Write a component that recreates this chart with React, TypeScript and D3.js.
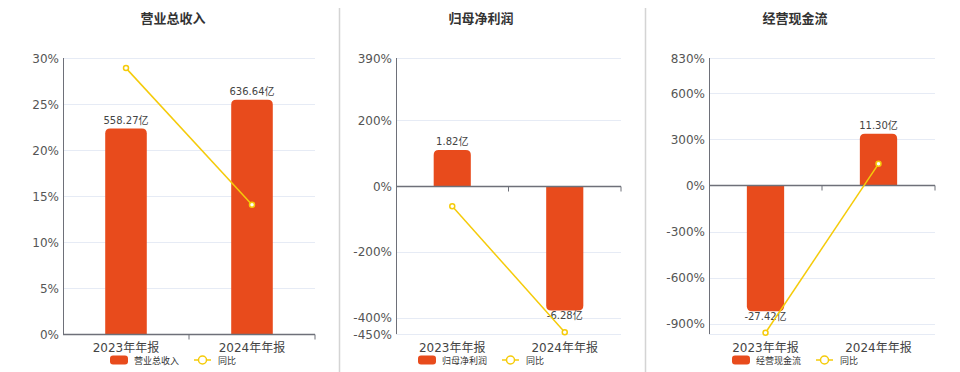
import React, { useEffect, useRef } from "react";
import * as d3 from "d3";

const categories = ["2023年年报", "2024年年报"];
const titles = ["营业总收入", "归母净利润", "经营现金流"];

const revenue = [558.27, 636.64];
const revenueYoY = [28.9, 14.04];
const netProfit = [1.82, -6.28];
const netProfitYoY = [-61, -445.05];
const cashFlow = [-27.42, 11.3];
const cashFlowYoY = [-959, 141.2];

const revenueTicks = [0, 5, 10, 15, 20, 25, 30];
const profitTicks = [-450, -400, -200, 0, 200, 390];
const cashTicks = [-900, -600, -300, 0, 300, 600, 830];

const BAR = "#E84B1C";
const LINE = "#F5CB0A";
const FONT = "'DejaVu Sans', 'Noto Sans CJK SC', sans-serif";

const panels = [
  {
    title: titles[0], bars: revenue, yoy: revenueYoY, ticks: revenueTicks,
    pct: [0, 30], barDomain: [0, 750], x0: 63, x1: 315, center: 173, grid: [0, 5, 10, 15, 20, 25, 30],
  },
  {
    title: titles[1], bars: netProfit, yoy: netProfitYoY, ticks: profitTicks,
    pct: [-450, 390], barDomain: [-7.47, 6.47], x0: 396, x1: 621, center: 481, grid: profitTicks,
  },
  {
    title: titles[2], bars: cashFlow, yoy: cashFlowYoY, ticks: cashTicks,
    pct: [-967, 830], barDomain: [-32.35, 27.78], x0: 709, x1: 935, center: 795, grid: [-967, ...cashTicks],
  },
];

const top = 58;
const bottom = 334;

function barPath(x: number, w: number, y0: number, y1: number, r: number) {
  // y0 = zero line, y1 = bar end; rounded on the end away from zero
  const h = Math.abs(y1 - y0);
  const rr = Math.min(r, h / 2, w / 2);
  if (y1 < y0) {
    return `M${x},${y0}V${y1 + rr}Q${x},${y1} ${x + rr},${y1}H${x + w - rr}Q${x + w},${y1} ${x + w},${y1 + rr}V${y0}Z`;
  }
  return `M${x},${y0}V${y1 - rr}Q${x},${y1} ${x + rr},${y1}H${x + w - rr}Q${x + w},${y1} ${x + w},${y1 - rr}V${y0}Z`;
}

const App = () => {
  const svgRef = useRef<SVGSVGElement>(null);

  useEffect(() => {
    const svg = d3.select(svgRef.current);
    svg.selectAll("*").remove();

    // panel separators
    [339.5, 645.5].forEach(x => {
      svg.append("line")
        .attr("x1", x).attr("x2", x).attr("y1", 8).attr("y2", 372)
        .attr("stroke", "#d4d4d4").attr("stroke-width", 1.5);
    });

    panels.forEach(p => {
      const g = svg.append("g");
      const xScale = d3.scaleBand().domain(categories).range([p.x0, p.x1]);
      const yScale = d3.scaleLinear().domain(p.pct).range([bottom, top]);
      const bScale = d3.scaleLinear().domain(p.barDomain).range([bottom, top]);
      const zeroY = yScale(0);

      // title
      g.append("text")
        .attr("x", p.center).attr("y", 23)
        .attr("text-anchor", "middle")
        .attr("font-family", FONT).attr("font-size", 13).attr("font-weight", "bold")
        .attr("fill", "#333")
        .text(p.title);

      // grid
      g.selectAll(".grid").data([...p.grid, p.pct[1]]).enter().append("line")
        .attr("x1", p.x0).attr("x2", p.x1)
        .attr("y1", d => Math.round(yScale(d)) + 0.5).attr("y2", d => Math.round(yScale(d)) + 0.5)
        .attr("stroke", "#E6EBF5").attr("stroke-width", 1);

      // y tick labels
      g.selectAll(".ylab").data(p.ticks).enter().append("text")
        .attr("x", p.x0 - 4).attr("y", d => yScale(d) + 4.5)
        .attr("text-anchor", "end")
        .attr("font-family", FONT).attr("font-size", 12).attr("fill", "#555")
        .text(d => `${d}%`);

      // y axis line
      g.append("line")
        .attr("x1", p.x0 + 0.5).attr("x2", p.x0 + 0.5).attr("y1", top).attr("y2", bottom)
        .attr("stroke", "#6E7079").attr("stroke-width", 1);

      // bars
      const bw = xScale.bandwidth() * 0.33;
      g.selectAll(".bar").data(p.bars).enter().append("path")
        .attr("d", (d, i) => {
          const cx = (xScale(categories[i]) as number) + xScale.bandwidth() / 2;
          return barPath(cx - bw / 2, bw, bScale(0), bScale(d), 5);
        })
        .attr("fill", BAR);

      // x axis at zero
      const zy = Math.round(zeroY) + 0.5;
      g.append("line")
        .attr("x1", p.x0).attr("x2", p.x1).attr("y1", zy).attr("y2", zy)
        .attr("stroke", "#6E7079").attr("stroke-width", 1.5);
      const tickXs = [p.x0, ...categories.map(c => (xScale(c) as number) + xScale.bandwidth())];
      g.selectAll(".xtick").data(tickXs.slice(1)).enter().append("line")
        .attr("x1", d => d).attr("x2", d => d).attr("y1", zy).attr("y2", zy + 5)
        .attr("stroke", "#6E7079");

      // category labels
      g.selectAll(".xlab").data(categories).enter().append("text")
        .attr("x", d => (xScale(d) as number) + xScale.bandwidth() / 2)
        .attr("y", 352)
        .attr("text-anchor", "middle")
        .attr("font-family", FONT).attr("font-size", 12).attr("fill", "#444")
        .text(d => d);

      // bar value labels
      g.selectAll(".blab").data(p.bars).enter().append("text")
        .attr("x", (d, i) => (xScale(categories[i]) as number) + xScale.bandwidth() / 2)
        .attr("y", d => (d >= 0 ? bScale(d) - 5 : bScale(d) + 9))
        .attr("text-anchor", "middle")
        .attr("font-family", FONT).attr("font-size", 10).attr("fill", "#444")
        .text(d => `${d.toFixed(2)}亿`);

      // yoy line
      const line = d3.line<number>()
        .x((d, i) => (xScale(categories[i]) as number) + xScale.bandwidth() / 2)
        .y(d => yScale(d));
      g.append("path").datum(p.yoy)
        .attr("d", line)
        .attr("fill", "none").attr("stroke", LINE).attr("stroke-width", 1.5);
      g.selectAll(".pt").data(p.yoy).enter().append("circle")
        .attr("cx", (d, i) => (xScale(categories[i]) as number) + xScale.bandwidth() / 2)
        .attr("cy", d => yScale(d))
        .attr("r", 2.5)
        .attr("fill", "#fff").attr("stroke", LINE).attr("stroke-width", 1.5);

      // legend
      const legendW = 126;
      const lx = p.center - legendW / 2;
      const ly = 360;
      const lg = g.append("g").attr("transform", `translate(${lx},${ly})`);
      lg.append("rect")
        .attr("x", 0).attr("y", -4.5).attr("width", 18).attr("height", 9).attr("rx", 3)
        .attr("fill", BAR);
      lg.append("text")
        .attr("x", 24).attr("y", 3.5)
        .attr("font-family", FONT).attr("font-size", 9).attr("fill", "#333")
        .text(p.title);
      lg.append("line")
        .attr("x1", 84).attr("x2", 101).attr("y1", 0).attr("y2", 0)
        .attr("stroke", LINE).attr("stroke-width", 1.5);
      lg.append("circle")
        .attr("cx", 92.5).attr("cy", 0).attr("r", 4)
        .attr("fill", "#fff").attr("stroke", LINE).attr("stroke-width", 1.5);
      lg.append("text")
        .attr("x", 108).attr("y", 3.5)
        .attr("font-family", FONT).attr("font-size", 9).attr("fill", "#333")
        .text("同比");
    });
  }, []);

  return (
    <svg
      ref={svgRef}
      width={960}
      height={372}
      style={{ position: "absolute", left: 0, top: 0, background: "#fff" }}
    ></svg>
  );
};

export default App;
